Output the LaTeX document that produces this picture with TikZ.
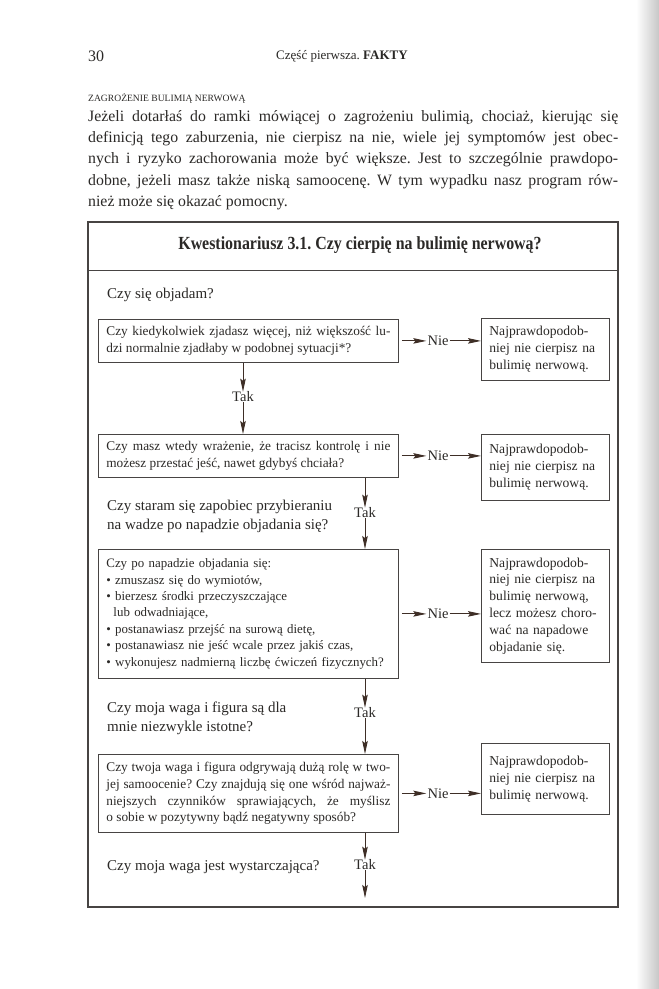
\documentclass[tikz,border=0pt]{standalone}
\usepackage{fontspec}
\setmainfont{Liberation Serif}
\usetikzlibrary{arrows.meta,positioning}
\definecolor{PageInk}{HTML}{2B2927}
\definecolor{BoxInk}{HTML}{474443}
\definecolor{ArrowInk}{HTML}{3E2E26}
\frenchspacing

\begin{document}
\begin{tikzpicture}[x=1pt,y=-1pt,
    ink/.style={text=PageInk,inner sep=0pt},
    qbox/.style={draw=BoxInk,line width=0.8pt,inner xsep=8pt,inner ysep=0pt,
      text=PageInk,text width=284pt,minimum width=300pt,align=justify,
      anchor=north west,font=\fontsize{13.3}{16.8}\selectfont},
    rbox/.style={draw=BoxInk,line width=0.8pt,inner xsep=8pt,inner ysep=0pt,
      text=PageInk,text width=112pt,minimum width=128pt,align=left,
      anchor=north west,font=\fontsize{13.6}{16.8}\selectfont},
    asks/.style={ink,anchor=west,align=left,font=\fontsize{15}{19}\selectfont},
    yesno/.style={ink,inner xsep=1pt,font=\fontsize{14.5}{16}\selectfont},
    flow/.style={-{Stealth[length=13pt,width=5.5pt,inset=2pt]},ArrowInk,line width=0.9pt}]
  \useasboundingbox (0,0) rectangle (659,989);
  \fill[white] (0,0) rectangle (659,989);
  \shade[left color=white,right color=black!22] (636,0) rectangle (659,989);

  % page head
  \node[ink,anchor=west,font=\fontsize{16}{18}\selectfont] (pnum) at (88,56) {30};
  \node[ink,font=\fontsize{13}{15}\selectfont] (runhead) at (342,56)
    {Część pierwsza. \textbf{FAKTY}};
  \node[ink,anchor=west,font=\fontsize{9.6}{11}\selectfont] (sect) at (88,98)
    {ZAGROŻENIE BULIMIĄ NERWOWĄ};
  \node[ink,anchor=north west,text width=530pt,align=justify,
    font=\fontsize{15.8}{21.4}\selectfont] (intro) at (88,110)
    {Jeżeli dotarłaś do ramki mówiącej o zagrożeniu bulimią, chociaż, kierując się\linebreak
     definicją tego zaburzenia, nie cierpisz na nie, wiele jej symptomów jest obec-\linebreak
     nych i ryzyko zachorowania może być większe. Jest to szczególnie prawdopo-\linebreak
     dobne, jeżeli masz także niską samoocenę. W tym wypadku nasz program rów-\linebreak
     nież może się okazać pomocny.};

  % frame of the questionnaire
  \draw[BoxInk,line width=1.1pt] (88,222) rectangle (618,907);
  \draw[BoxInk,line width=1pt] (88,270) -- (618,270);
  \node[ink,font=\fontsize{18.5}{20}\selectfont\bfseries,xscale=0.86] (title) at (360,245)
    {Kwestionariusz 3.1. Czy cierpię na bulimię nerwową?};

  % questions
  \node[asks] (ask1) at (107,295) {Czy się objadam?};
  \node[qbox,minimum height=43pt] (q1) at (98,319)
    {Czy kiedykolwiek zjadasz więcej, niż większość lu-\linebreak
     dzi normalnie zjadłaby w podobnej sytuacji*?};
  \node[rbox,minimum height=62pt] (r1) at (481,318)
    {Najprawdopodob-\\niej nie cierpisz na\\bulimię nerwową.};

  \node[qbox,minimum height=43pt] (q2) at (98,434)
    {Czy masz wtedy wrażenie, że tracisz kontrolę i nie\linebreak
     możesz przestać jeść, nawet gdybyś chciała?};
  \node[rbox,minimum height=66pt] (r2) at (481,434)
    {Najprawdopodob-\\niej nie cierpisz na\\bulimię nerwową.};

  \node[asks] (ask2) at (107,516)
    {Czy staram się zapobiec przybieraniu\\na wadze po napadzie objadania się?};
  \node[qbox,minimum height=129pt,align=left,font=\fontsize{12.9}{16.4}\selectfont] (q3) at (98,549)
    {Czy po napadzie objadania się:\\
     \textbullet\ zmuszasz się do wymiotów,\\
     \textbullet\ bierzesz środki przeczyszczające\\
     \hspace*{0.55em}lub odwadniające,\\
     \textbullet\ postanawiasz przejść na surową dietę,\\
     \textbullet\ postanawiasz nie jeść wcale przez jakiś czas,\\
     \mbox{\textbullet\ wykonujesz nadmierną liczbę ćwiczeń fizycznych?}};
  \node[rbox,minimum height=113pt] (r3) at (481,549)
    {Najprawdopodob-\\niej nie cierpisz na\\bulimię nerwową,\\lecz możesz choro-\\wać na napadowe\\objadanie się.};

  \node[asks] (ask3) at (107,718)
    {Czy moja waga i figura są dla\\mnie niezwykle istotne?};
  \node[qbox,minimum height=78pt] (q4) at (98,754)
    {Czy twoja waga i figura odgrywają dużą rolę w two-\linebreak
     jej samoocenie? Czy znajdują się one wśród najważ-\linebreak
     niejszych czynników sprawiających, że myślisz\linebreak
     o sobie w pozytywny bądź negatywny sposób?};
  \node[rbox,minimum height=71pt] (r4) at (481,743)
    {Najprawdopodob-\\niej nie cierpisz na\\bulimię nerwową.};

  \node[asks] (ask4) at (107,867) {Czy moja waga jest wystarczająca?};

  % Nie labels
  \coordinate (nocol) at (438,0);
  \node[yesno] (no1) at (q1.west -| nocol) {Nie};
  \node[yesno] (no2) at (q2.west -| nocol) {Nie};
  \node[yesno] (no3) at (q3.west -| nocol) {Nie};
  \node[yesno] (no4) at (q4.west -| nocol) {Nie};

  % Tak labels
  \node[yesno] (yes1) at (243,397) {Tak};
  \node[yesno] (yes2) at (365,513) {Tak};
  \node[yesno] (yes3) at (365,713) {Tak};
  \node[yesno] (yes4) at (365,865) {Tak};
  \coordinate (end) at (365,898);

  % connectors
  \foreach \i in {1,...,4}{
    \draw[flow,shorten <=3pt] (q\i.east |- no\i) -- (no\i.west);
    \draw[flow] (no\i.east) -- (no\i.east -| r\i.west);
  }
  \draw[flow] (yes1 |- q1.south) -- (yes1.north);
  \draw[flow] (yes1.south) -- (yes1 |- q2.north);
  \draw[flow] (yes2 |- q2.south) -- (yes2.north);
  \draw[flow] (yes2.south) -- (yes2 |- q3.north);
  \draw[flow] (yes3 |- q3.south) -- (yes3.north);
  \draw[flow] (yes3.south) -- (yes3 |- q4.north);
  \draw[flow] (yes4 |- q4.south) -- (yes4.north);
  \draw[flow] (yes4.south) -- (end);
\end{tikzpicture}
\end{document}
